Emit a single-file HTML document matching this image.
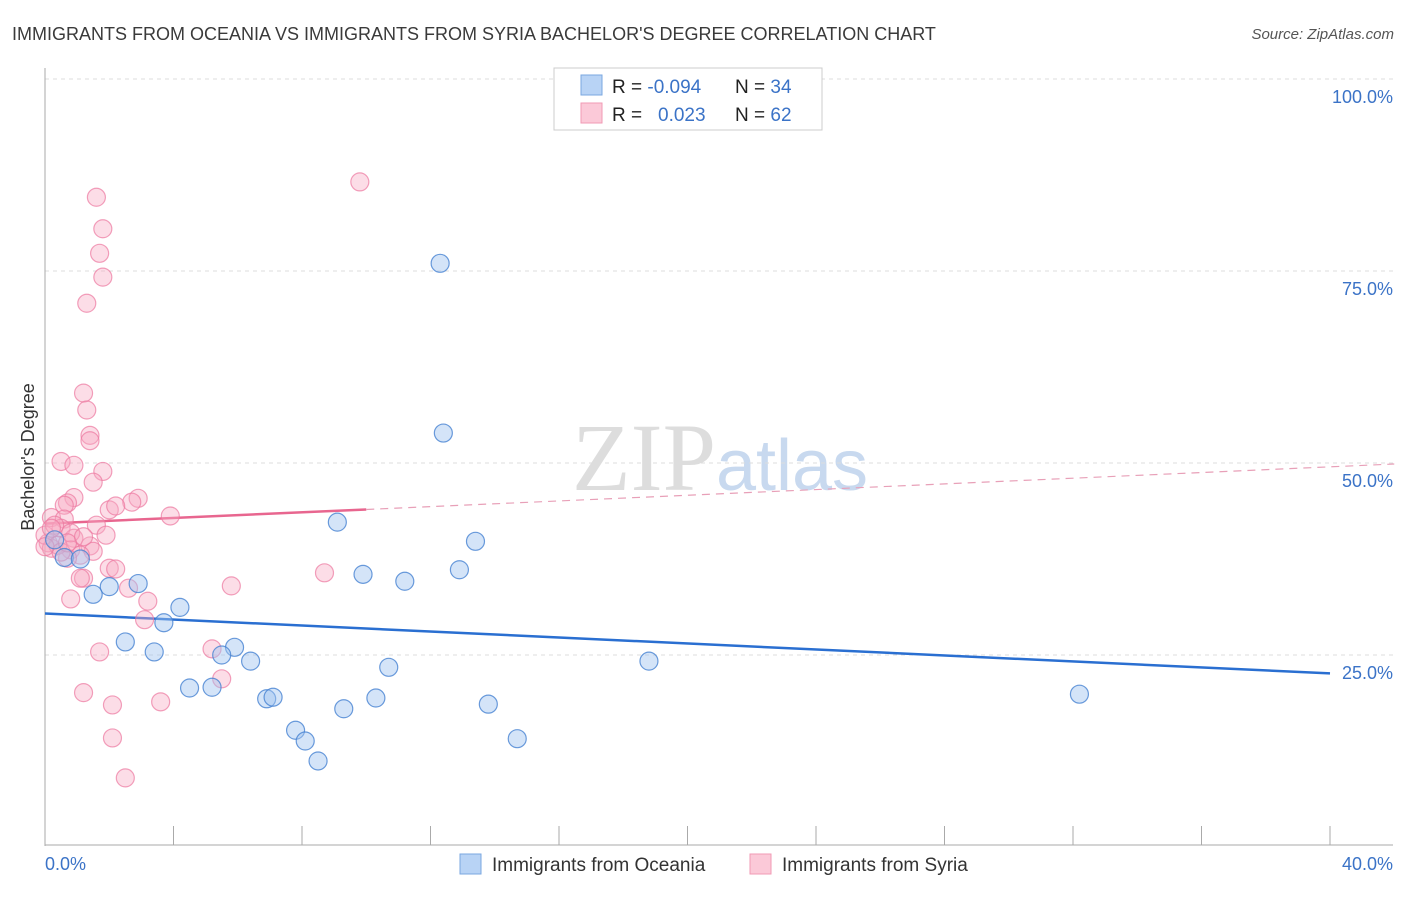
<!DOCTYPE html>
<html><head><meta charset="utf-8"><style>
body{margin:0;background:#fff;font-family:"Liberation Sans",sans-serif}
</style></head><body>
<svg width="1406" height="892" xmlns="http://www.w3.org/2000/svg" font-family="Liberation Sans, sans-serif">
<text x="12" y="40" font-size="18" fill="#3a3a3a">IMMIGRANTS FROM OCEANIA VS IMMIGRANTS FROM SYRIA BACHELOR'S DEGREE CORRELATION CHART</text>
<text x="1394" y="39" font-size="15" fill="#555" text-anchor="end" font-style="italic">Source: ZipAtlas.com</text>
<text x="720" y="490" font-size="96" fill="#ddd" text-anchor="middle" font-family="Liberation Serif, serif">ZIP<tspan fill="#c8d9ef" font-family="Liberation Sans, sans-serif" font-size="72">atlas</tspan></text>
<g id="grid"></g>
<line x1="45" y1="68" x2="45" y2="846" stroke="#aaa"/>
<line x1="45" y1="845" x2="1393" y2="845" stroke="#aaa"/>
<g id="xticks"></g>
<text transform="translate(34,457) rotate(-90)" font-size="18" fill="#333" text-anchor="middle">Bachelor's Degree</text>
<text x="45" y="870" font-size="18" fill="#3b73c7">0.0%</text>
<text x="1393" y="870" font-size="18" fill="#3b73c7" text-anchor="end">40.0%</text>
<g id="trends"></g>
<g id="pts"></g>
<g>
<rect x="554" y="68" width="268" height="62" fill="#fff" stroke="#ccc"/>
<rect x="581" y="75" width="21" height="20" fill="#b8d3f5" stroke="#7aa7e0"/>
<rect x="581" y="103" width="21" height="20" fill="#fbc9d8" stroke="#f09ab4"/>
<text x="612" y="93" font-size="19" fill="#222">R = <tspan fill="#3b73c7">-0.094</tspan><tspan x="735">N = </tspan><tspan fill="#3b73c7">34</tspan></text>
<text x="612" y="121" font-size="19" fill="#222">R = <tspan x="658" fill="#3b73c7">0.023</tspan><tspan x="735">N = </tspan><tspan fill="#3b73c7">62</tspan></text>
</g>
<g>
<rect x="460" y="854" width="21" height="20" fill="#b8d3f5" stroke="#7aa7e0"/>
<text x="492" y="871" font-size="19" fill="#333">Immigrants from Oceania</text>
<rect x="750" y="854" width="21" height="20" fill="#fbc9d8" stroke="#f09ab4"/>
<text x="782" y="871" font-size="19" fill="#333">Immigrants from Syria</text>
</g>
</svg>
<script>
const yTicks=[25,50,75,100];
const yTickLabels=["25.0%","50.0%","75.0%","100.0%"];
const xTicks=[0,4,8,12,16,20,24,28,32,36,40];
const oceaniaX=[12.3,12.4,9.1,13.4,12.9,9.9,11.2,2.9,2.0,1.5,4.2,3.7,2.5,3.4,5.9,5.5,6.4,18.8,10.7,4.5,5.2,6.9,7.1,10.3,13.8,9.3,7.8,8.1,14.7,8.5,32.2,0.6,1.1,0.3];
const oceaniaY=[76.0,53.9,42.3,39.8,36.1,35.5,34.6,34.3,33.9,32.9,31.2,29.2,26.7,25.4,26.0,25.0,24.2,24.2,23.4,20.7,20.8,19.3,19.5,19.4,18.6,18.0,15.2,13.8,14.1,11.2,19.9,37.7,37.5,40.0];
const syriaX=[9.8,1.6,1.8,1.7,1.8,1.3,1.2,1.3,1.4,1.4,0.5,0.9,1.8,1.5,0.9,0.7,0.6,2.9,2.7,2.0,2.2,3.9,0.2,0.6,1.6,0.5,1.9,0.9,1.4,0.1,0.2,0.8,1.5,1.1,0.7,2.0,2.2,1.2,1.1,8.7,5.8,2.6,3.2,0.8,3.1,5.2,1.7,5.5,1.2,2.1,3.6,2.1,2.5,0.0,0.3,0.4,0.5,0.8,0.2,0.7,1.2,0.0];
const syriaY=[86.6,84.6,80.5,77.3,74.2,70.8,59.1,56.9,53.6,52.9,50.2,49.7,48.9,47.5,45.5,44.8,44.5,45.4,44.9,43.9,44.4,43.1,42.9,42.7,41.9,41.5,40.6,40.2,39.2,39.6,38.9,38.7,38.5,38.0,37.6,36.3,36.2,35.0,35.0,35.7,34.0,33.7,32.0,32.3,29.6,25.8,25.4,21.9,20.1,18.5,18.9,14.2,9.0,40.6,41.9,39.3,38.4,40.9,41.5,39.6,40.4,39.1];
const oceaniaTrend=[30.4,22.6];
const syriaTrend=[42.1,49.5];
const syriaSolidEnd=10;
const X=v=>45+v/40*1285, Y=v=>847-v/100*768;
const NS="http://www.w3.org/2000/svg";
function mk(tag,attrs,parent){const e=document.createElementNS(NS,tag);for(const k in attrs)e.setAttribute(k,attrs[k]);document.getElementById(parent).appendChild(e);return e;}
yTicks.forEach((t,i)=>{
 const l=mk('line',{x1:45,x2:1393,y1:Y(t),y2:Y(t),stroke:'#ddd','stroke-dasharray':'4,4'},'grid');
 
 
 const tx=mk('text',{x:1393,y:Y(t)+24,'font-size':18,fill:'#3b73c7','text-anchor':'end'},'grid');
 tx.textContent=yTickLabels[i];
 
 
});
xTicks.forEach(t=>{
 const l=mk('line',{x1:X(t),x2:X(t),y1:826,y2:845,stroke:'#aaa'},'xticks');
 
 
});
function dot(x,y,fill,stroke,name){
 const c=mk('circle',{cx:X(x),cy:Y(y),r:9,fill:fill,stroke:stroke,'stroke-width':1.2},'pts');
 
 
}
syriaX.forEach((x,i)=>dot(x,syriaY[i],'rgba(248,170,195,0.4)','rgba(236,120,160,0.7)','syria-point'));
oceaniaX.forEach((x,i)=>dot(x,oceaniaY[i],'rgba(160,196,240,0.45)','rgba(70,130,210,0.8)','oceania-point'));
let t=mk('line',{x1:X(0),y1:Y(oceaniaTrend[0]),x2:X(40),y2:Y(oceaniaTrend[1]),stroke:'#2a6fd1','stroke-width':2.5},'trends');


const sy=x=>syriaTrend[0]+(syriaTrend[1]-syriaTrend[0])*x/40;
t=mk('line',{x1:X(0),y1:Y(sy(0)),x2:X(syriaSolidEnd),y2:Y(sy(syriaSolidEnd)),stroke:'#e8668f','stroke-width':2.5},'trends');


t=mk('line',{x1:X(syriaSolidEnd),y1:Y(sy(syriaSolidEnd)),x2:X(42),y2:Y(sy(42)),stroke:'#e8a0b8','stroke-width':1.2,'stroke-dasharray':'8,6'},'trends');


</script>
</body></html>
